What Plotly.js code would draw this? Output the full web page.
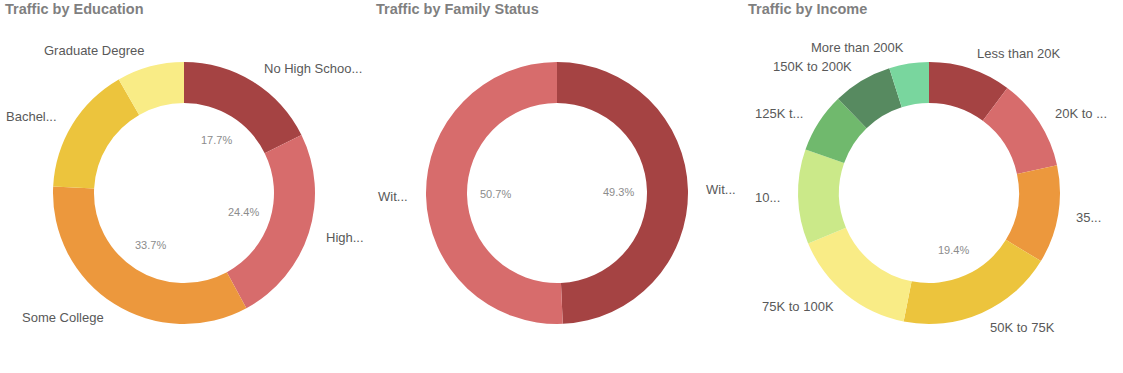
<!DOCTYPE html>
<html>
<head>
<meta charset="utf-8">
<script src="https://cdn.plot.ly/plotly-3.0.1.min.js"></script>
<style>html,body{margin:0;padding:0;background:#fff;}#chart{width:1123px;height:373px;}</style>
</head>
<body>
<div id="chart"></div>
<script>
// ---- data ----
const eduLabels = ["No High Schoo...", "High...", "Some College", "Bachel...", "Graduate Degree"];
const eduValues = [17.7, 24.4, 33.7, 15.9, 8.3];
const eduColors = ["#a54343", "#d76c6c", "#ec983d", "#ecc43d", "#f9ec86"];

const famLabels = ["Wit...", "Wit..."];
const famValues = [49.3, 50.7];
const famColors = ["#a54343", "#d76c6c"];

const incLabels = ["Less than 20K", "20K to ...", "35...", "50K to 75K", "75K to 100K", "10...", "125K t...", "150K to 200K", "More than 200K"];
const incValues = [10.2, 11.4, 12.1, 19.4, 15.6, 11.7, 7.4, 7.3, 4.9];
const incColors = ["#a54343", "#d76c6c", "#ec983d", "#ecc43d", "#f9ec86", "#cbe989", "#70b96d", "#578a60", "#79d69e"];

const titles = ["Traffic by Education", "Traffic by Family Status", "Traffic by Income"];

// ---- layout ----
const W = 1123, H = 373;
const cy = 193, R = 131, HOLE = 90 / 131;
const centersX = [184, 557, 929];
const titleX = [3, 374, 746];
const LABEL_R = 147, PCT_R = 62, PCT_MIN = 17;

const charts = [
  {labels: eduLabels, values: eduValues, colors: eduColors},
  {labels: famLabels, values: famValues, colors: famColors},
  {labels: incLabels, values: incValues, colors: incColors}
];

const data = [];
const annotations = [];
const px = x => x / W, py = y => 1 - y / H;

charts.forEach((c, i) => {
  const cx = centersX[i];
  data.push({
    type: 'pie',
    labels: c.labels.map((l, k) => l + '#' + k),
    values: c.values,
    sort: false,
    direction: 'clockwise',
    rotation: 0,
    hole: HOLE,
    textinfo: 'none',
    hoverinfo: 'skip',
    showlegend: false,
    marker: {colors: c.colors, line: {width: 0}},
    domain: {x: [px(cx - R), px(cx + R)], y: [py(cy + R), py(cy - R)]}
  });
  const total = c.values.reduce((a, b) => a + b, 0);
  let cum = 0;
  c.values.forEach((v, k) => {
    const mid = (cum + v / 2) / total * 2 * Math.PI;
    cum += v;
    const s = Math.sin(mid), co = Math.cos(mid);
    const lx = cx + LABEL_R * s, ly = cy - LABEL_R * co;
    annotations.push({
      xref: 'paper', yref: 'paper', x: px(lx), y: py(ly),
      xanchor: s >= 0 ? 'left' : 'right', yanchor: 'middle',
      text: c.labels[k], showarrow: false,
      font: {family: 'Liberation Sans, Arial, sans-serif', size: 13, color: '#595959'}
    });
    const pct = v / total * 100;
    if (pct >= PCT_MIN) {
      annotations.push({
        xref: 'paper', yref: 'paper', x: px(cx + PCT_R * s), y: py(cy - PCT_R * co),
        xanchor: 'center', yanchor: 'middle',
        text: pct.toFixed(1) + '%', showarrow: false,
        font: {family: 'Liberation Sans, Arial, sans-serif', size: 11, color: '#8c8c8c'}
      });
    }
  });
  annotations.push({
    xref: 'paper', yref: 'paper', x: px(titleX[i]), y: py(9),
    xanchor: 'left', yanchor: 'middle', showarrow: false,
    text: '<b>' + titles[i] + '</b>',
    font: {family: 'Liberation Sans, Arial, sans-serif', size: 14.5, color: '#7f7f7f'}
  });
});

const layout = {
  width: W, height: H,
  margin: {l: 0, r: 0, t: 0, b: 0},
  paper_bgcolor: '#ffffff',
  annotations: annotations
};

Plotly.newPlot('chart', data, layout, {displayModeBar: false, staticPlot: true});
</script>
</body>
</html>
